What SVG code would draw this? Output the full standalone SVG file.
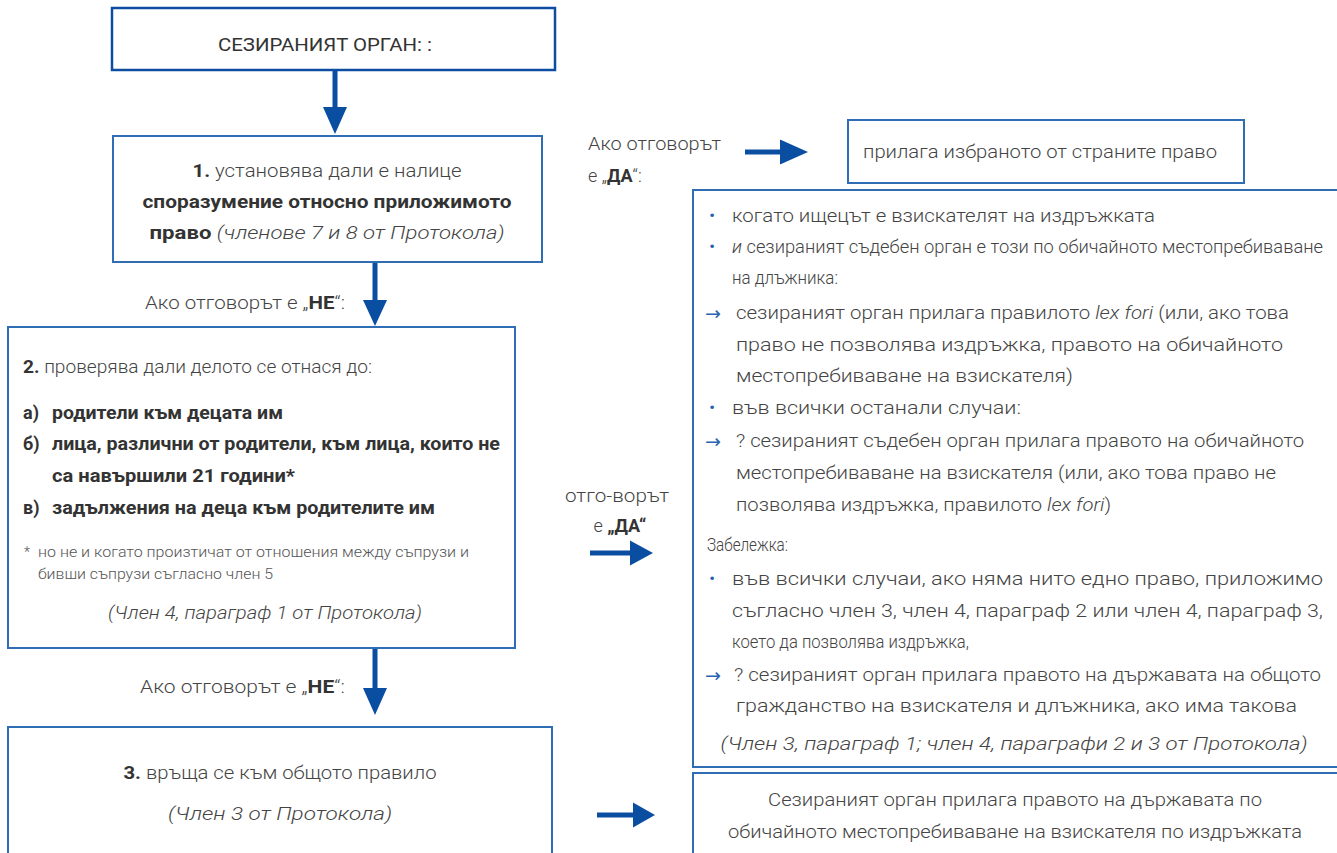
<svg xmlns="http://www.w3.org/2000/svg" width="1337" height="853" viewBox="0 0 1337 853">
<defs>
<style>
.box{fill:#fff;stroke:#2f6db5;stroke-width:2}
.boxd{fill:#fff;stroke:#0c4da2;stroke-width:2.5}
.t{font-family:Roboto,"Liberation Sans",sans-serif;font-weight:300;font-size:18px;fill:#444}
.r{font-family:Roboto,"Liberation Sans",sans-serif;font-weight:300;font-size:19px;fill:#444}
.s{font-family:Roboto,"Liberation Sans",sans-serif;font-weight:300;font-size:14px;fill:#555}
.b{font-weight:700;fill:#333}
.m{font-weight:400;fill:#333}
.i{font-style:italic}
.blue{fill:#1f5fae}
.arr{font-family:"DejaVu Sans",sans-serif;font-size:19px;fill:#2a64b0}
.ar{fill:#0a4ea2}
</style>
</defs>
<rect width="1337" height="853" fill="#fff"/>
<g id="connectors">
<path class="ar" d="M332.5 70 h5 v37 h9.5 l-12 27 l-12 -27 h9.5 z"/>
<path class="ar" d="M372.5 262 h5 v38 h9.5 l-12 26 l-12 -26 h9.5 z"/>
<path class="ar" d="M372.5 648 h5 v40 h9.5 l-12 27 l-12 -27 h9.5 z"/>
<path class="ar" d="M745 149.5 h35 v-10 l28 12.5 l-28 12.5 v-10 h-35 z"/>
<path class="ar" d="M590 550.5 h40 v-10 l23 12.5 l-23 12.5 v-10 h-40 z"/>
<path class="ar" d="M597 812.5 h36 v-10 l22 12.5 l-22 12.5 v-10 h-36 z"/>
</g>
<g id="n0">
<rect class="boxd" x="112" y="8" width="443" height="62"/>
<text class="t m" x="325" y="51" text-anchor="middle" textLength="214" lengthAdjust="spacingAndGlyphs">СЕЗИРАНИЯТ ОРГАН: :</text>
</g>
<g id="n1">
<rect class="box" x="113" y="136" width="429" height="126"/>
<text class="t" x="327" y="177" text-anchor="middle" textLength="269" lengthAdjust="spacingAndGlyphs"><tspan class="b">1.</tspan> установява дали е налице</text>
<text class="t b" x="327" y="208" text-anchor="middle" textLength="369" lengthAdjust="spacingAndGlyphs">споразумение относно приложимото</text>
<text class="t" x="327" y="239" text-anchor="middle" textLength="355" lengthAdjust="spacingAndGlyphs"><tspan class="b">право</tspan> <tspan class="i">(членове 7 и 8 от Протокола)</tspan></text>
</g>
<g id="lbl1">
<text class="t" x="145" y="309" textLength="200" lengthAdjust="spacingAndGlyphs">Ако отговорът е „<tspan class="b">НЕ</tspan>“:</text>
</g>
<g id="n2">
<rect class="box" x="8" y="327" width="507" height="321"/>
<text class="t" x="23" y="373" textLength="349" lengthAdjust="spacingAndGlyphs"><tspan class="b">2.</tspan> проверява дали делото се отнася до:</text>
<text class="t b" x="23" y="419">а)</text>
<text class="t b" x="52" y="419" textLength="231" lengthAdjust="spacingAndGlyphs">родители към децата им</text>
<text class="t b" x="23" y="450">б)</text>
<text class="t b" x="52" y="450" textLength="448" lengthAdjust="spacingAndGlyphs">лица, различни от родители, към лица, които не</text>
<text class="t b" x="52" y="482" textLength="243" lengthAdjust="spacingAndGlyphs">са навършили 21 години*</text>
<text class="t b" x="23" y="514">в)</text>
<text class="t b" x="52" y="514" textLength="383" lengthAdjust="spacingAndGlyphs">задължения на деца към родителите им</text>
<text class="s" x="24" y="557">*</text>
<text class="s" x="38" y="557" textLength="431" lengthAdjust="spacingAndGlyphs">но не и когато произтичат от отношения между съпрузи и</text>
<text class="s" x="38" y="579" textLength="235" lengthAdjust="spacingAndGlyphs">бивши съпрузи съгласно член 5</text>
<text class="t i" x="265" y="619" text-anchor="middle" textLength="314" lengthAdjust="spacingAndGlyphs">(Член 4, параграф 1 от Протокола)</text>
</g>
<g id="lbl2">
<text class="t" x="140" y="693" textLength="205" lengthAdjust="spacingAndGlyphs">Ако отговорът е „<tspan class="b">НЕ</tspan>“:</text>
</g>
<g id="n3">
<rect class="box" x="8" y="727" width="544" height="140"/>
<text class="t" x="280" y="779" text-anchor="middle" textLength="313" lengthAdjust="spacingAndGlyphs"><tspan class="b">3.</tspan> връща се към общото правило</text>
<text class="t i" x="280" y="820" text-anchor="middle" textLength="224" lengthAdjust="spacingAndGlyphs">(Член 3 от Протокола)</text>
</g>
<g id="lbl3">
<text class="t" x="588" y="150" textLength="133" lengthAdjust="spacingAndGlyphs">Ако отговорът</text>
<text class="t" x="588" y="182">е „<tspan class="b">ДА</tspan>“:</text>
</g>
<g id="n4">
<rect class="box" x="848" y="120" width="396" height="63"/>
<text class="t" x="1040" y="158" text-anchor="middle" textLength="354" lengthAdjust="spacingAndGlyphs">прилага избраното от страните право</text>
</g>
<g id="lbl4">
<text class="t" x="617" y="502" text-anchor="middle" textLength="104" lengthAdjust="spacingAndGlyphs">отго-ворът</text>
<text class="t" x="620" y="532" text-anchor="middle">е <tspan class="b">„ДА“</tspan></text>
</g>
<g id="n5">
<rect class="box" x="693" y="190" width="650" height="577"/>
<text class="r blue" x="709" y="222">•</text>
<text class="r" x="732" y="222" textLength="423" lengthAdjust="spacingAndGlyphs">когато ищецът е взискателят на издръжката</text>
<text class="r blue" x="709" y="253">•</text>
<text class="r" x="732" y="253" textLength="591" lengthAdjust="spacingAndGlyphs"><tspan class="i">и</tspan> сезираният съдебен орган е този по обичайното местопребиваване</text>
<text class="r" x="732" y="284" textLength="106" lengthAdjust="spacingAndGlyphs">на длъжника:</text>
<text class="arr" x="705" y="320">→</text>
<text class="r" x="736" y="319" textLength="553" lengthAdjust="spacingAndGlyphs">сезираният орган прилага правилото <tspan class="i">lex fori</tspan> (или, ако това</text>
<text class="r" x="736" y="351" textLength="547" lengthAdjust="spacingAndGlyphs">право не позволява издръжка, правото на обичайното</text>
<text class="r" x="736" y="382" textLength="337" lengthAdjust="spacingAndGlyphs">местопребиваване на взискателя)</text>
<text class="r blue" x="709" y="414">•</text>
<text class="r" x="732" y="414" textLength="289" lengthAdjust="spacingAndGlyphs">във всички останали случаи:</text>
<text class="arr" x="705" y="448">→</text>
<text class="r" x="736" y="447" textLength="568" lengthAdjust="spacingAndGlyphs">? сезираният съдебен орган прилага правото на обичайното</text>
<text class="r" x="736" y="479" textLength="540" lengthAdjust="spacingAndGlyphs">местопребиваване на взискателя (или, ако това право не</text>
<text class="r" x="736" y="511" textLength="375" lengthAdjust="spacingAndGlyphs">позволява издръжка, правилото <tspan class="i">lex fori</tspan>)</text>
<text class="r" x="707" y="551" textLength="81" lengthAdjust="spacingAndGlyphs">Забележка:</text>
<text class="r blue" x="709" y="585">•</text>
<text class="r" x="732" y="585" textLength="591" lengthAdjust="spacingAndGlyphs">във всички случаи, ако няма нито едно право, приложимо</text>
<text class="r" x="732" y="617" textLength="591" lengthAdjust="spacingAndGlyphs">съгласно член 3, член 4, параграф 2 или член 4, параграф 3,</text>
<text class="r" x="732" y="648" textLength="237" lengthAdjust="spacingAndGlyphs">което да позволява издръжка,</text>
<text class="arr" x="705" y="682">→</text>
<text class="r" x="734" y="681" textLength="587" lengthAdjust="spacingAndGlyphs">? сезираният орган прилага правото на държавата на общото</text>
<text class="r" x="736" y="712" textLength="561" lengthAdjust="spacingAndGlyphs">гражданство на взискателя и длъжника, ако има такова</text>
<text class="r i" x="1014" y="750" text-anchor="middle" textLength="587" lengthAdjust="spacingAndGlyphs">(Член 3, параграф 1; член 4, параграфи 2 и 3 от Протокола)</text>
</g>
<g id="n6">
<rect class="box" x="693" y="773" width="650" height="100"/>
<text class="r" x="1015" y="806" text-anchor="middle" textLength="494" lengthAdjust="spacingAndGlyphs">Сезираният орган прилага правото на държавата по</text>
<text class="r" x="1015" y="838" text-anchor="middle" textLength="574" lengthAdjust="spacingAndGlyphs">обичайното местопребиваване на взискателя по издръжката</text>
</g>
</svg>
